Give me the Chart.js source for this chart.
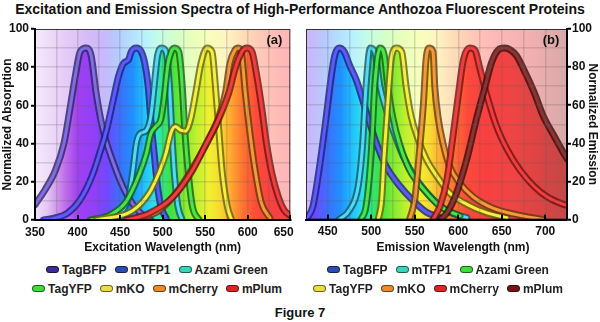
<!DOCTYPE html>
<html>
<head>
<meta charset="utf-8">
<script src="https://cdn.jsdelivr.net/npm/chart.js@4.4.0/dist/chart.umd.min.js"></script>
<style>
  body { margin: 0; background: #fff; font-family: "Liberation Sans", Arial, sans-serif; }
  #quadro { position: relative; width: 600px; height: 322px; overflow: hidden; }
  #titulo { position: absolute; top: 1px; left: 0; width: 600px; text-align: center; font-weight: bold; font-size: 14px; line-height: 16px; color: #111; }
  canvas { position: absolute; top: 0; }
  #excitacao { left: 0; }
  #emissao { left: 296px; }
  .legenda { position: absolute; top: 260px; }
  .linha { display: flex; justify-content: center; height: 19px; align-items: center; }
  .item { display: flex; align-items: center; margin: 0 4px; font-weight: bold; font-size: 12px; color: #222; }
  .marca { width: 11px; height: 5px; border-radius: 4px; border: 1px solid rgba(0, 0, 0, 0.55); margin-right: 3px; }
  #legEx { left: 0; width: 314px; }
  #legEm { left: 300px; width: 276px; }
  #figura { position: absolute; top: 305px; left: 0; width: 600px; text-align: center; font-weight: bold; font-size: 13px; line-height: 16px; color: #111; }
</style>
</head>
<body>
<div id="quadro">
  <div id="titulo">Excitation and Emission Spectra of High-Performance Anthozoa Fluorescent Proteins</div>
  <canvas id="excitacao" width="312" height="260"></canvas>
  <canvas id="emissao" width="304" height="260"></canvas>
  <div class="legenda" id="legEx"></div>
  <div class="legenda" id="legEm"></div>
  <div id="figura">Figure 7</div>
</div>
<script>
// Proteínas (mesma ordem nos dois painéis)
var proteinas = ["TagBFP", "mTFP1", "Azami Green", "TagYFP", "mKO", "mCherry", "mPlum"];

// Rótulos dos eixos
var ticksExcitacao = [350, 400, 450, 500, 550, 600, 650];
var ticksEmissao = [450, 500, 550, 600, 650, 700];
var ticksIntensidade = [0, 20, 40, 60, 80, 100];

// Espectros de excitação - comprimento de onda (nm) e absorção normalizada
var ex_TagBFP_nm = [350, 362, 374, 384, 391, 398, 403, 410, 416, 422, 430, 442, 457, 473, 486];
var ex_TagBFP = [8, 16, 26, 40, 58, 77, 88, 90, 86, 66, 47, 30, 14, 4, 0];
var ex_mTFP1_nm = [360, 373, 388, 403, 417, 426, 434, 442, 448, 454, 460, 463, 469, 475, 479, 483, 486, 490, 494, 498, 504];
var ex_mTFP1 = [0, 1, 3.5, 10.5, 23, 35, 47, 63, 75, 82, 84, 88, 90, 88, 82, 70, 53, 35, 17.5, 7, 1];
var ex_Azami_nm = [438, 450, 460, 465, 469, 473, 481, 486, 490, 494, 499, 504, 508, 511, 514, 518, 523];
var ex_Azami = [0, 3.5, 12, 26, 40, 45, 47, 54, 70, 86, 90, 88, 70, 44, 23, 7, 0];
var ex_TagYFP_nm = [415, 438, 457, 473, 481, 486, 492, 498, 502, 506, 510, 514, 519, 523, 526, 530, 535, 543];
var ex_TagYFP = [0, 2.6, 9.6, 24.5, 35, 45, 49, 53, 65, 81, 88, 90, 88, 70, 47, 25, 7, 0];
var ex_mKO_nm = [422, 465, 484, 496, 504, 510, 515, 521, 527, 533, 539, 545, 552, 558, 562, 566, 570, 576, 581];
var ex_mKO = [0, 5, 14, 25, 35, 46, 49, 47, 46.5, 53, 67, 82, 90, 88, 70, 47, 25, 7, 0];
var ex_mCherry_nm = [465, 496, 519, 539, 554, 566, 574, 579, 585, 589, 593, 597, 603, 609, 616, 626];
var ex_mCherry = [0, 5, 16, 30, 42, 54, 67, 82, 89, 90, 86, 67, 44, 25, 9, 1];
var ex_mPlum_nm = [457, 484, 512, 535, 550, 566, 578, 585, 593, 599, 605, 610, 616, 622, 628, 636, 643, 651];
var ex_mPlum = [0, 3.5, 12, 26, 39, 53, 67, 79, 88, 90, 88, 77, 60, 40, 25, 12, 5, 2];

// Espectros de emissão - comprimento de onda (nm) e emissão normalizada
var em_TagBFP_nm = [425, 433, 440, 448, 454, 458, 463, 469, 475, 483, 490, 498, 506, 517, 533, 548, 563, 579];
var em_TagBFP = [0, 7, 26, 53, 75, 86, 90, 88, 81, 73, 63, 51, 40, 28, 17.5, 10, 4, 1];
var em_mTFP1_nm = [463, 475, 485, 490, 494, 499, 504, 510, 517, 525, 537, 552, 571, 590, 610];
var em_mTFP1 = [0, 5, 17.5, 39, 70, 90, 88, 70, 58, 47, 33, 21, 10.5, 4, 1];
var em_Azami_nm = [488, 494, 500, 504, 510, 515, 519, 525, 533, 544, 560, 579, 602];
var em_Azami = [0, 7, 35, 70, 90, 86, 70, 53, 39, 26, 16, 7, 2];
var em_TagYFP_nm = [508, 512, 515, 519, 523, 529, 535, 540, 546, 554, 563, 575, 590, 610, 633, 656];
var em_TagYFP = [0, 10.5, 35, 61, 84, 90, 88, 70, 54, 42, 32, 23, 14, 8, 3.5, 1];
var em_mKO_nm = [544, 550, 556, 560, 563, 567, 571, 573, 577, 583, 590, 602, 617, 640, 667, 698];
var em_mKO = [0, 10.5, 39, 61, 84, 90, 88, 70, 53, 39, 28, 19, 12, 6, 2.6, 0];
var em_mCherry_nm = [571, 579, 587, 594, 600, 606, 613, 619, 625, 633, 644, 656, 671, 687, 702, 721, 725];
var em_mCherry = [0, 7, 21, 44, 65, 84, 90, 89, 79, 65, 49, 37, 26, 17.5, 12, 8, 7.5];
var em_mPlum_nm = [579, 587, 598, 610, 621, 631, 638, 646, 653, 660, 667, 675, 687, 698, 710, 721, 725];
var em_mPlum = [0, 3.5, 14, 32, 53, 70, 82, 89, 90, 89, 86, 79, 67, 54, 44, 35, 32];

// Cores das linhas (miolo claro e contorno escuro)
var corLinhaEx = ["#7f6ee6", "#5a5cff", "#50dcf4", "#48e848", "#f4f040", "#f49a38", "#f83c3c"];
var corBordaEx = ["#2e2466", "#1e1e80", "#145a70", "#146014", "#6a6410", "#6a3a0c", "#701414"];
var corLinhaEm = ["#5a5cff", "#50dcf4", "#48e848", "#f4f040", "#f49a38", "#f83c3c", "#8a3434"];
var corBordaEm = ["#1e1e80", "#145a70", "#146014", "#6a6410", "#6a3a0c", "#701414", "#3a0e0e"];
var corLegendaEx = ["#3b2c9a", "#2c4cb4", "#38d6b8", "#38e038", "#e8e040", "#f08a28", "#e02424"];
var corLegendaEm = ["#2c4cb4", "#38d6b8", "#38e038", "#e8e040", "#f08a28", "#e02424", "#7a1414"];
var corGrade = "rgba(90, 90, 90, 0.22)";

// Faixas de cor do espectro visível (preenchimento e fundo)
var espectroForte = [[350, "#f2e2fa"], [365, "#e4c4f4"], [385, "#c070e8"], [400, "#a040f0"], [420, "#9040f8"], [435, "#7048ff"], [450, "#3a70ff"], [465, "#2090ff"], [478, "#20c0ff"], [490, "#30e0e8"], [500, "#30e880"], [510, "#40e040"], [525, "#80ec30"], [540, "#c0f030"], [555, "#f0f030"], [568, "#f8d830"], [580, "#ffa830"], [595, "#ff7030"], [610, "#ff4a3a"], [630, "#f84040"], [660, "#f04444"], [700, "#d84444"], [725, "#c04848"]];
var espectroClaro = [[350, "#f6eafb"], [380, "#e8d0f8"], [410, "#d8bcf8"], [430, "#c8b8fc"], [445, "#b8c8ff"], [460, "#b4dcff"], [478, "#b8f0ff"], [495, "#c4fce8"], [515, "#d4ffc8"], [535, "#e8ffbc"], [555, "#f8ffbc"], [575, "#fff4c0"], [595, "#ffdcb8"], [615, "#ffc8b8"], [640, "#ffb8b8"], [680, "#f4b0b0"], [725, "#d8a8a8"]];

Chart.defaults.font.family = '"Liberation Sans", Arial, sans-serif';
Chart.defaults.color = "#111";

// Gradiente horizontal seguindo o eixo x (nm)
function gradiente(chart, faixas) {
  var x = chart.scales.x;
  var ini = faixas[0][0];
  var fim = faixas[faixas.length - 1][0];
  var g = chart.ctx.createLinearGradient(x.getPixelForValue(ini), 0, x.getPixelForValue(fim), 0);
  for (var i = 0; i < faixas.length; i++) {
    g.addColorStop((faixas[i][0] - ini) / (fim - ini), faixas[i][1]);
  }
  return g;
}

// Duas linhas por proteína: contorno largo (com preenchimento) e miolo colorido
function montarDatasets(curvas, corLinha, corBorda) {
  var datasets = [];
  for (var i = 0; i < curvas.length; i++) {
    var nm = curvas[i][0];
    var valores = curvas[i][1];
    var pontos = nm.map(function (v, j) { return { x: v, y: valores[j] }; });
    var comum = { data: pontos, pointRadius: 0, cubicInterpolationMode: "monotone", borderJoinStyle: "round", borderCapStyle: "round", clip: 0 };
    datasets.push(Object.assign({}, comum, {
      label: proteinas[i],
      borderColor: corLinha[i],
      borderWidth: 3,
      fill: false,
      order: (curvas.length - 1 - i) * 2,
    }));
    datasets.push(Object.assign({}, comum, {
      label: proteinas[i] + " ",
      borderColor: corBorda[i] + "d0",
      borderWidth: 7,
      fill: "origin",
      backgroundColor: function (ctx) {
        if (!ctx.chart.chartArea) return "transparent";
        return gradiente(ctx.chart, espectroForte);
      },
      order: (curvas.length - 1 - i) * 2 + 1,
    }));
  }
  return datasets;
}

// Fundo claro, moldura, ticks internos e letra do painel
var pluginEspectro = {
  id: "espectro",
  beforeDraw: function (chart) {
    var a = chart.chartArea;
    var ctx = chart.ctx;
    ctx.save();
    ctx.fillStyle = gradiente(chart, espectroClaro);
    ctx.fillRect(a.left, a.top, a.right - a.left, a.bottom - a.top);
    ctx.restore();
  },
  afterDraw: function (chart, args, opts) {
    var a = chart.chartArea;
    var ctx = chart.ctx;
    var x = chart.scales.x;
    ctx.save();
    ctx.strokeStyle = "rgba(0, 0, 0, 0.75)";
    ctx.lineWidth = 1;
    ctx.strokeRect(a.left + 0.5, a.top + 0.5, a.right - a.left - 1, a.bottom - a.top - 1);
    ctx.fillStyle = "#000";
    for (var i = 0; i < opts.ticks.length; i++) {
      var px = Math.round(x.getPixelForValue(opts.ticks[i]));
      ctx.fillRect(px - 1, a.bottom - 5, 2, 5);
    }
    ctx.font = 'bold 13px "Liberation Sans", Arial, sans-serif';
    ctx.fillStyle = "#111";
    ctx.textAlign = "center";
    ctx.textBaseline = "middle";
    ctx.fillText(opts.letra, a.right - 16, a.top + 11);
    ctx.restore();
  },
};

function eixoY(titulo, posicao, largura, padding) {
  return {
    position: posicao,
    min: 0,
    max: 100,
    ticks: {
      stepSize: 10,
      padding: padding,
      font: { size: 12, weight: "bold" },
      callback: function (v) { return ticksIntensidade.indexOf(v) >= 0 ? v : ""; },
    },
    grid: {
      z: 1,
      lineWidth: 1.5,
      color: function (c) { return c.tick && (c.tick.value === 0 || c.tick.value === 100) ? "transparent" : corGrade; },
      tickLength: 4,
      tickWidth: 2,
      tickColor: function (c) { return c.tick && c.tick.value % 20 === 0 ? "#000" : "transparent"; },
    },
    border: { color: "#000", width: 2, z: 1 },
    title: { display: true, text: titulo, font: { size: 12, weight: "bold" }, padding: { top: 0, bottom: 0 } },
    afterFit: function (s) { s.width = largura; },
  };
}

function eixoX(min, max, rotulos, titulo, altura) {
  var eixo = {
    type: "linear",
    min: min,
    max: max,
    ticks: {
      stepSize: 25,
      autoSkip: false,
      maxRotation: 0,
      padding: 5,
      font: { size: 12, weight: "bold" },
      callback: function (v) {
        if (rotulos.indexOf(v) < 0) return "";
        // último rótulo encostado na borda: empurra para dentro
        return v === max ? v + "    " : v;
      },
    },
    grid: {
      z: 1,
      lineWidth: 1.5,
      drawTicks: false,
      color: function (c) { return c.tick && (c.tick.value === min || c.tick.value === max) ? "transparent" : corGrade; },
    },
    border: { color: "#000", width: 2, z: 1 },
    afterFit: function (s) { s.height = altura; },
  };
  if (titulo) {
    eixo.title = { display: true, text: titulo, font: { size: 12, weight: "bold" }, padding: { top: 0, bottom: 1 } };
  }
  return eixo;
}

// Painel (a) - Excitação
function renderExcitacao() {
  var curvas = [
    [ex_TagBFP_nm, ex_TagBFP], [ex_mTFP1_nm, ex_mTFP1], [ex_Azami_nm, ex_Azami], [ex_TagYFP_nm, ex_TagYFP],
    [ex_mKO_nm, ex_mKO], [ex_mCherry_nm, ex_mCherry], [ex_mPlum_nm, ex_mPlum],
  ];
  var ctx = document.getElementById("excitacao").getContext("2d");
  new Chart(ctx, {
    type: "line",
    data: { datasets: montarDatasets(curvas, corLinhaEx, corBordaEx) },
    options: {
      responsive: false,
      animation: false,
      layout: { padding: { top: 29, right: 18, bottom: 4, left: 0 } },
      scales: {
        x: eixoX(350, 650, ticksExcitacao, "Excitation Wavelength (nm)", 36),
        y: eixoY("Normalized Absorption", "left", 35, 2),
      },
      plugins: {
        legend: { display: false },
        tooltip: { enabled: false },
        filler: { drawTime: "beforeDatasetsDraw" },
        espectro: { letra: "(a)", ticks: ticksExcitacao },
      },
    },
    plugins: [pluginEspectro],
  });
}

// Painel (b) - Emissão
function renderEmissao() {
  var curvas = [
    [em_TagBFP_nm, em_TagBFP], [em_mTFP1_nm, em_mTFP1], [em_Azami_nm, em_Azami], [em_TagYFP_nm, em_TagYFP],
    [em_mKO_nm, em_mKO], [em_mCherry_nm, em_mCherry], [em_mPlum_nm, em_mPlum],
  ];
  var ctx = document.getElementById("emissao").getContext("2d");
  new Chart(ctx, {
    type: "line",
    data: { datasets: montarDatasets(curvas, corLinhaEm, corBordaEm) },
    options: {
      responsive: false,
      animation: false,
      layout: { padding: { top: 29, right: 0, bottom: 4, left: 10 } },
      scales: {
        x: eixoX(425, 725, ticksEmissao, null, 20),
        y: eixoY("Normalized Emission", "right", 33, 1),
      },
      plugins: {
        legend: { display: false },
        tooltip: { enabled: false },
        filler: { drawTime: "beforeDatasetsDraw" },
        title: { display: true, position: "bottom", text: "Emission Wavelength (nm)", font: { size: 12, weight: "bold" }, padding: { top: 1, bottom: 1 } },
        espectro: { letra: "(b)", ticks: ticksEmissao },
      },
    },
    plugins: [pluginEspectro],
  });
}

// Legenda em duas linhas (3 + 4 itens)
function montarLegenda(id, cores) {
  var caixa = document.getElementById(id);
  var grupos = [[0, 1, 2], [3, 4, 5, 6]];
  for (var g = 0; g < grupos.length; g++) {
    var linha = document.createElement("div");
    linha.className = "linha";
    for (var k = 0; k < grupos[g].length; k++) {
      var i = grupos[g][k];
      var item = document.createElement("span");
      item.className = "item";
      var marca = document.createElement("span");
      marca.className = "marca";
      marca.style.background = cores[i];
      item.appendChild(marca);
      item.appendChild(document.createTextNode(proteinas[i]));
      linha.appendChild(item);
    }
    caixa.appendChild(linha);
  }
}

renderExcitacao();
renderEmissao();
montarLegenda("legEx", corLegendaEx);
montarLegenda("legEm", corLegendaEm);
</script>
</body>
</html>
